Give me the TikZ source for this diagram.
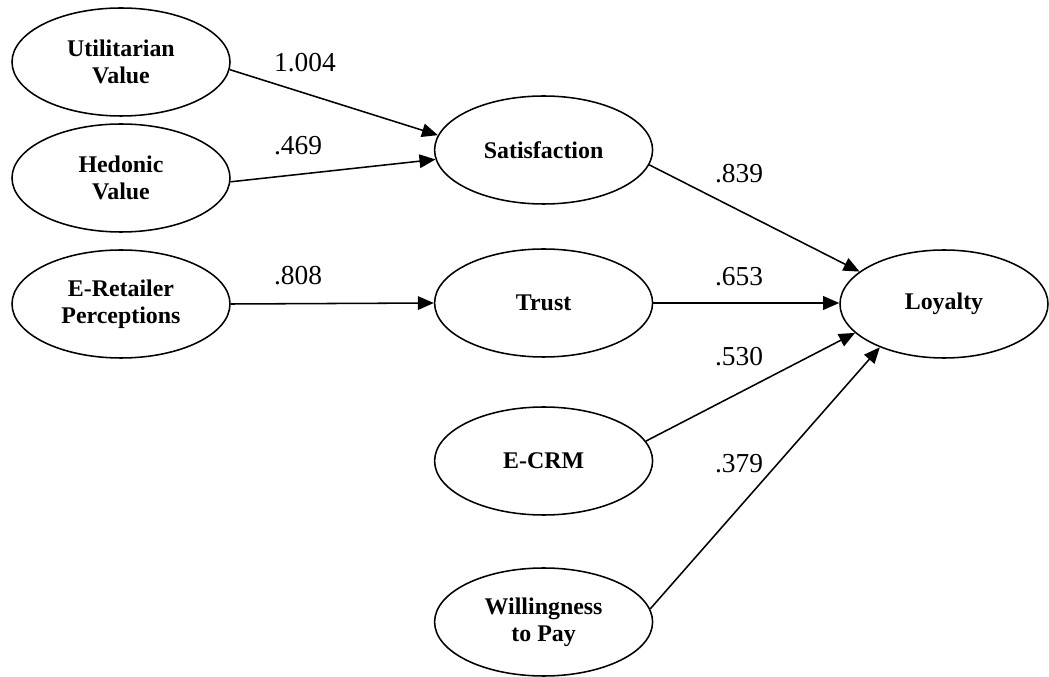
\documentclass[tikz,border=0pt]{standalone}
\usepackage{fontspec}
\setmainfont{Liberation Serif}
\usepackage{tikz}
\usetikzlibrary{arrows.meta, shapes.geometric}
\tikzset{
  construct/.style ={draw, ellipse, minimum width=5.45cm, minimum height=2.7cm, inner sep=0pt,
                     line width=1.1pt, align=center, font=\fontsize{17}{19.2}\selectfont\bfseries},
  outcome/.style   ={construct, minimum width=5.2cm},
  effect/.style    ={-{Triangle[length=4mm, width=3.4mm]}, line width=1.1pt},   % path coefficient arrow
  coef/.style      ={font=\fontsize{19.5}{22}\selectfont},
}

\begin{document}
\begin{tikzpicture}
  \useasboundingbox (0,0) rectangle (26.225,-16.925);

  % LEFT: antecedents
  \node[construct] (util) at (3.025,-1.55)  {Utilitarian\\Value};
  \node[construct] (hed)  at (3.025,-4.45)  {Hedonic\\Value};
  \node[construct] (ret)  at (3.025,-7.6)   {E-Retailer\\Perceptions};

  % MIDDLE: mediators and direct drivers
  \node[construct] (sat)   at (13.59,-3.75)  {Satisfaction};
  \node[construct] (trust) at (13.59,-7.575) {Trust};
  \node[construct] (ecrm)  at (13.59,-11.525){E-CRM};
  \node[construct] (wtp)   at (13.59,-15.55) {Willingness\\to Pay};

  % RIGHT: outcome
  \node[outcome] (loy) at (23.6,-7.6) {Loyalty};

  \draw[effect] (util.-4)   -- (sat.172);
  \draw[effect] (hed.-2)    -- (sat.185);
  \draw[effect] (ret.east)  -- (trust.west);
  \draw[effect] (sat.-8)    -- (loy.159);
  \draw[effect] (trust.east) -- (trust.east -| loy.west);
  \draw[effect] (ecrm.11.5) -- (loy.198);
  \draw[effect] (wtp.7)     -- (loy.214);

  % coefficients
  \node[coef] (c1004) at (7.625,-1.575) {1.004};
  \node[coef] (c469)  at (7.45,-3.65)   {.469};
  \node[coef] (c808)  at (7.45,-6.9)    {.808};
  \node[coef] (c839)  at (18.475,-4.35) {.839};
  \node[coef] (c653)  at (18.475,-6.925){.653};
  \node[coef] (c530)  at (18.475,-8.925){.530};
  \node[coef] (c379)  at (18.475,-11.6) {.379};
\end{tikzpicture}
\end{document}
